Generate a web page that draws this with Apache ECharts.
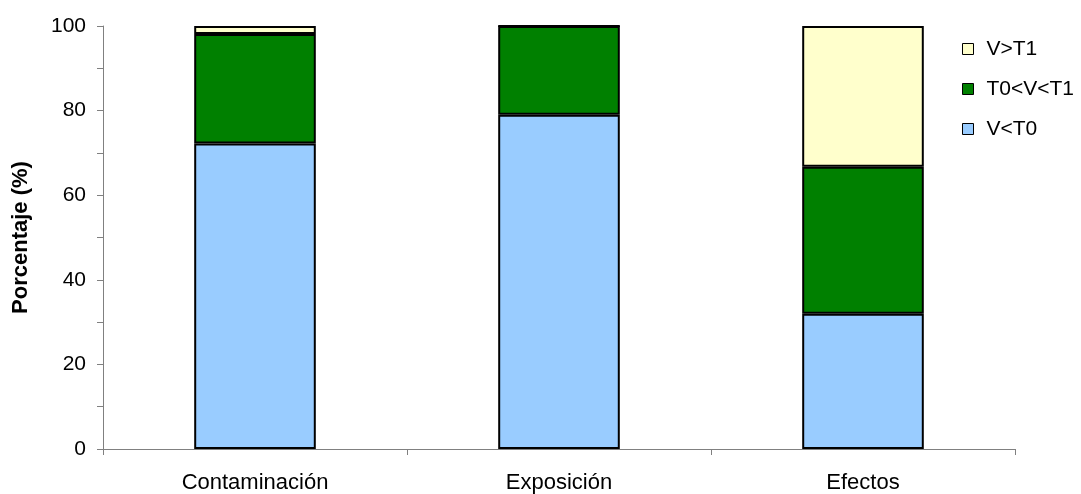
<!DOCTYPE html>
<html><head><meta charset="utf-8">
<script src="https://cdn.jsdelivr.net/npm/echarts@6/dist/echarts.min.js"></script>
<style>html,body{margin:0;padding:0;background:#fff}#c{width:1081px;height:494px}</style>
</head><body><div id="c"></div>
<script>
const categories = ['Contaminación', 'Exposición', 'Efectos'];
const seriesNames = ['V<T0', 'T0<V<T1', 'V>T1'];
const lowValues = [72.2, 79, 32];
const midValues = [25.9, 21, 34.7];
const highValues = [1.9, 0, 33.3];
const yTicks = [0, 20, 40, 60, 80, 100];
const colors = ['#99CCFF', '#008000', '#FFFFCC'];

const font = "'Liberation Sans', Arial, sans-serif";
const chart = echarts.init(document.getElementById('c'), null, {renderer: 'canvas'});
const data = [lowValues, midValues, highValues];
chart.setOption({
  animation: false,
  grid: {left: 103, right: 66, top: 26, bottom: 44, containLabel: false},
  legend: {
    orient: 'vertical', left: 957, top: 33,
    data: seriesNames.slice().reverse(),
    itemWidth: 11, itemHeight: 11, itemGap: 18,
    icon: 'rect',
    textStyle: {fontFamily: font, fontSize: 21, color: '#000', lineHeight: 22, padding: [0,0,0,8]},
    itemStyle: {borderColor: '#000', borderWidth: 1}
  },
  xAxis: {
    type: 'category', data: categories,
    axisLine: {lineStyle: {color: '#808080', width: 1}},
    axisTick: {show: true, length: 6, lineStyle: {color: '#808080'}},
    axisLabel: {fontFamily: font, fontSize: 22, color: '#000', margin: 23}
  },
  yAxis: {
    type: 'value', min: yTicks[0], max: yTicks[yTicks.length - 1], interval: 20,
    name: 'Porcentaje (%)', nameLocation: 'middle', nameGap: 71,
    nameTextStyle: {fontFamily: font, fontSize: 22, fontWeight: 'bold', color: '#000'},
    axisLine: {show: true, lineStyle: {color: '#808080', width: 1}},
    axisTick: {show: true, length: 6, lineStyle: {color: '#808080'}},
    minorTick: {show: true, splitNumber: 2, length: 6, lineStyle: {color: '#808080'}},
    splitLine: {show: false},
    axisLabel: {fontFamily: font, fontSize: 21, color: '#000', margin: 17}
  },
  series: seriesNames.map((n, i) => ({
    name: n, type: 'bar', stack: 'all', data: data[i],
    barWidth: '40%',
    itemStyle: {color: colors[i], borderColor: '#000', borderWidth: 2}
  }))
});
</script></body></html>
